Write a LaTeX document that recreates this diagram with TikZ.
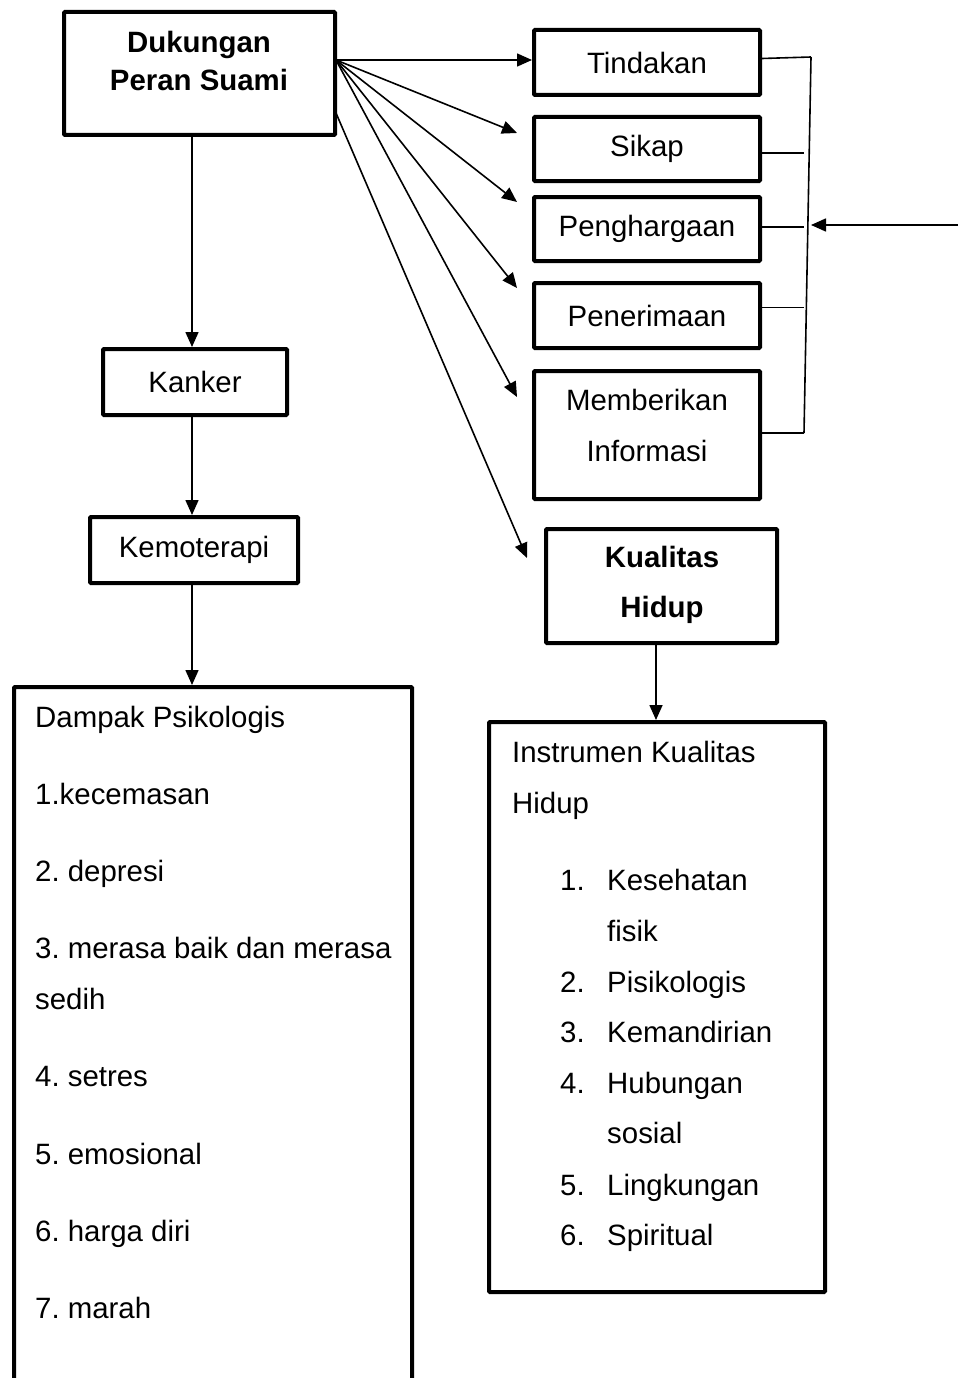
\documentclass[tikz,border=0pt]{standalone}
\usepackage{fontspec}
\setmainfont{Liberation Sans}
\usetikzlibrary{arrows.meta,calc,positioning}
\newcommand\ukuran{\fontsize{29.4}{35}\selectfont}
\frenchspacing

\begin{document}
\begin{tikzpicture}[x=1pt,y=-1pt,
		kotak/.style={draw,line width=4pt,rounded corners=1pt,inner sep=0pt,font=\ukuran},
		panah/.style={line width=1.6pt,-{Triangle[length=15pt,width=13pt]}},
		garis/.style={line width=1.6pt},
		teks/.style={inner sep=0pt,anchor=base west,font=\ukuran},
		judul/.style={inner sep=0pt,anchor=base,font=\ukuran\bfseries},
		tengah/.style={inner sep=0pt,anchor=base,font=\ukuran}
	]
	\useasboundingbox (0,0) rectangle (958,1378);
	\clip (0,0) rectangle (958,1378);
	% kotak kiri
	\node[kotak,minimum width=271,minimum height=123] (duk) at (199.5,73.5) {};
	\node[judul] (duk1) at (199,53) {Dukungan};
	\node[judul] (duk2) at (199,91) {Peran Suami};
	\node[kotak,minimum width=184,minimum height=66] (kanker) at (195,382) {Kanker};
	\node[kotak,minimum width=208,minimum height=66] (kemo) at (194,550) {Kemoterapi};
	\node[kotak,minimum width=398,minimum height=763] (dampak) at (213,1068.5) {};
	% kotak kanan
	\node[kotak,minimum width=226,minimum height=65] (tind) at (647,62.5) {Tindakan};
	\node[kotak,minimum width=226,minimum height=64] (sikap) at (647,149) {Sikap};
	\node[kotak,minimum width=226,minimum height=64] (harga) at (647,229) {Penghargaan};
	\node[kotak,minimum width=226,minimum height=65] (terima) at (647,315.5) {Penerimaan};
	\node[kotak,minimum width=226,minimum height=128] (info) at (647,435) {};
	\node[tengah] (info1) at (647,410) {Memberikan};
	\node[tengah] (info2) at (647,461) {Informasi};
	\node[kotak,minimum width=231,minimum height=114] (kual) at (661.5,586) {};
	\node[judul] (kual1) at (662,567) {Kualitas};
	\node[judul] (kual2) at (662,617) {Hidup};
	\node[kotak,minimum width=336,minimum height=570] (instr) at (657,1007) {};
	% isi kotak dampak
	\foreach \i/\y/\t in {1/727/Dampak Psikologis,2/804/1.kecemasan,3/881/2. depresi,
			4/958/3. merasa baik dan merasa,5/1009/sedih,6/1086/4. setres,
			7/1164/5. emosional,8/1241/6. harga diri,9/1318/7. marah}
		\node[teks] (dp\i) at (35,\y) {\t};
	% isi kotak instrumen
	\node[teks] (in1) at (512,762) {Instrumen Kualitas};
	\node[teks] (in2) at (512,813) {Hidup};
	\foreach \i/\y/\t in {1/890/1.,2/992/2.,3/1042/3.,4/1093/4.,5/1195/5.,6/1245/6.}
		\node[teks] (no\i) at (560,\y) {\t};
	\foreach \i/\y/\t in {1/890/Kesehatan,2/941/fisik,3/992/Pisikologis,4/1042/Kemandirian,
			5/1093/Hubungan,6/1143/sosial,7/1195/Lingkungan,8/1245/Spiritual}
		\node[teks] (li\i) at (607,\y) {\t};
	% panah ke bawah
	\coordinate (kiri) at (192,0);
	\coordinate (kanan) at (656,0);
	\draw[panah] (duk.south -| kiri) -- (kanker.north -| kiri);
	\draw[panah] (kanker.south -| kiri) -- (kemo.north -| kiri);
	\draw[panah] (kemo.south -| kiri) -- (dampak.north -| kiri);
	\draw[panah] (kual.south -| kanan) -- (instr.north -| kanan);
	% panah menyebar
	\coordinate (pusat) at (336,60);
	\coordinate (pusat2) at (336,113);
	\draw[panah] (pusat) -- (pusat -| tind.west);
	\draw[panah] (pusat) -- ($(sikap.north west)+(-15,18)$);
	\draw[panah] (pusat) -- ($(harga.north west)+(-15,7)$);
	\draw[panah] (pusat) -- ($(terima.north west)+(-15,7)$);
	\draw[panah] (pusat) -- ($(info.north west)+(-15,28)$);
	\draw[panah] (pusat2) -- ($(kual.north west)+(-17,31)$);
	% kurung kanan
	\coordinate (atas) at (811,57);
	\coordinate (bawah) at (804,433);
	\draw[garis] (atas) -- (bawah);
	\draw[garis] ($(tind.east)+(0,-4)$) -- (atas);
	\foreach \n/\dy in {sikap/4,harga/-2,terima/-8,info/-2}{
		\coordinate (u\n) at ($(\n.east)+(0,\dy)$);
		\draw[garis] (u\n) -- (u\n -| bawah);
	}
	\coordinate (masuk) at (958,225);
	\coordinate (ujung) at (811,225);
	\draw[panah] (masuk) -- (ujung);
\end{tikzpicture}
\end{document}
